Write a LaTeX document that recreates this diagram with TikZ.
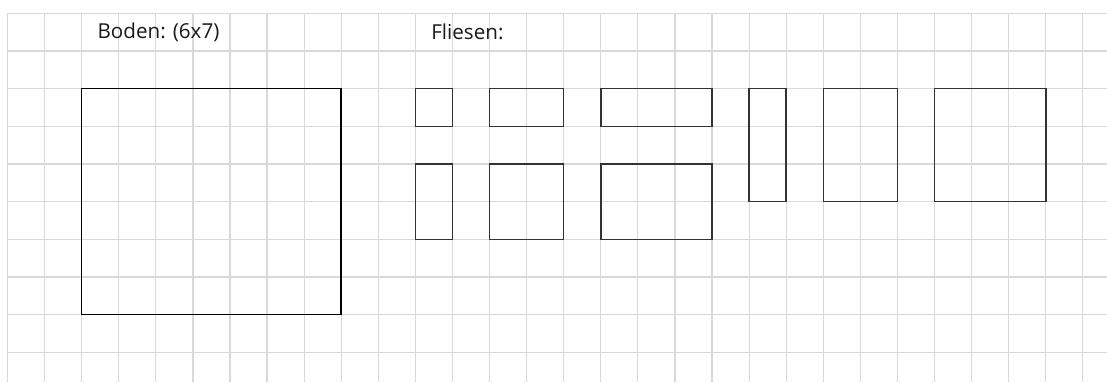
\documentclass[tikz,border=0pt]{standalone}
\usepackage{fontspec}
\setmainfont{Open Sans}
\usetikzlibrary{positioning}

\begin{document}
\begin{tikzpicture}[x=18.54pt,y=-18.835pt]
\tikzstyle{gridline}=[draw=black!15,line width=0.6pt]
\tikzstyle{floor}=[draw=black,line width=0.75pt]
\tikzstyle{tile}=[draw=black!80,line width=0.75pt]
\tikzstyle{caption}=[anchor=west,inner sep=0pt,font=\fontsize{10.3}{12}\selectfont,text=black!90]

\useasboundingbox (-0.2023,-0.353) rectangle (29.652,9.788);

% kariertes Papier
\foreach \k in {0,...,29}
  \draw [gridline] (\k,0) -- (\k,9.788);
\foreach \j in {0,...,9}
  \draw [gridline] (0,\j) -- (29.652,\j);

\node (boden) [caption] at (2.42,0.5) {Boden: (6x7)};
\node (fliesen) [caption] at (11.42,0.5) {Fliesen:};

% Boden
\draw [floor] (2,2) rectangle (9,8);

% Fliesen
\draw [tile] (11,2) rectangle (12,3);
\draw [tile] (13,2) rectangle (15,3);
\draw [tile] (16,2) rectangle (19,3);
\draw [tile] (11,4) rectangle (12,6);
\draw [tile] (13,4) rectangle (15,6);
\draw [tile] (16,4) rectangle (19,6);
\draw [tile] (20,2) rectangle (21,5);
\draw [tile] (22,2) rectangle (24,5);
\draw [tile] (25,2) rectangle (28,5);

\end{tikzpicture}
\end{document}
